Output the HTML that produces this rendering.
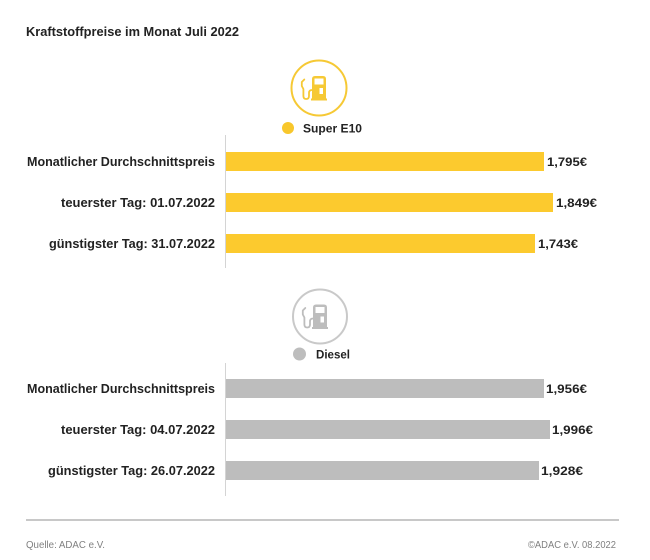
<!DOCTYPE html>
<html>
<head>
<meta charset="utf-8">
<style>
  html, body { margin:0; padding:0; background:#ffffff; }
  svg { display:block; }
  text { font-family: "Liberation Sans", "DejaVu Sans", sans-serif; }
</style>
</head>
<body>
<svg width="650" height="560" viewBox="0 0 650 560" xmlns="http://www.w3.org/2000/svg">
  <rect width="650" height="560" fill="#ffffff"/>

  <!-- Title -->
  <text x="26" y="36" font-size="12.5" font-weight="bold" fill="#222" textLength="213" lengthAdjust="spacingAndGlyphs">Kraftstoffpreise im Monat Juli 2022</text>

  <!-- Super E10 icon -->
  <circle cx="319" cy="88" r="27.5" fill="none" stroke="#f6c935" stroke-width="2"/>
  <g fill="#f6c935">
    <path d="M312,79 q0,-3 3,-3 h8 q3,0 3,3 v20 h-14 z"/>
    <rect x="311" y="98.5" width="16" height="2"/>
  </g>
  <rect x="314.5" y="78.5" width="9" height="6" fill="#fff"/>
  <rect x="319.5" y="88" width="3.5" height="6" fill="#fff"/>
  <path d="M312,90 q-3,0 -3,3 v3 q0,3 -2.8,3 q-2.8,0 -2.8,-3 v-7 l-1.6,-3 v-4 l2.5,-2.5" fill="none" stroke="#f6c935" stroke-width="1.8" stroke-linecap="round" stroke-linejoin="round"/>
  <circle cx="288" cy="128" r="6" fill="#f8c72c"/>
  <text x="303" y="132.5" font-size="12" font-weight="bold" fill="#222" textLength="59" lengthAdjust="spacingAndGlyphs">Super E10</text>

  <!-- Yellow axis -->
  <line x1="225.5" y1="135" x2="225.5" y2="268" stroke="#d4d4d4" stroke-width="1"/>

  <!-- Yellow bars -->
  <rect x="226" y="152" width="318" height="19" fill="#fcca2e"/>
  <rect x="226" y="193" width="327" height="19" fill="#fcca2e"/>
  <rect x="226" y="234" width="309" height="19" fill="#fcca2e"/>

  <text x="215" y="166" font-size="12.5" font-weight="bold" fill="#222" text-anchor="end" textLength="188" lengthAdjust="spacingAndGlyphs">Monatlicher Durchschnittspreis</text>
  <text x="215" y="207" font-size="12.5" font-weight="bold" fill="#222" text-anchor="end" textLength="154" lengthAdjust="spacingAndGlyphs">teuerster Tag: 01.07.2022</text>
  <text x="215" y="248" font-size="12.5" font-weight="bold" fill="#222" text-anchor="end" textLength="166" lengthAdjust="spacingAndGlyphs">günstigster Tag: 31.07.2022</text>

  <text x="547" y="166" font-size="12" font-weight="bold" fill="#222" textLength="40" lengthAdjust="spacingAndGlyphs">1,795€</text>
  <text x="556" y="207" font-size="12" font-weight="bold" fill="#222" textLength="41" lengthAdjust="spacingAndGlyphs">1,849€</text>
  <text x="538" y="248" font-size="12" font-weight="bold" fill="#222" textLength="40" lengthAdjust="spacingAndGlyphs">1,743€</text>

  <!-- Diesel icon -->
  <circle cx="320" cy="316.5" r="27" fill="none" stroke="#c9c9c9" stroke-width="2"/>
  <g fill="#bdbdbd">
    <path d="M313,307.5 q0,-3 3,-3 h8 q3,0 3,3 v20 h-14 z"/>
    <rect x="312" y="327" width="16" height="2"/>
  </g>
  <rect x="315.5" y="307" width="9" height="6" fill="#fff"/>
  <rect x="320.5" y="316.5" width="3.5" height="6" fill="#fff"/>
  <path d="M313,318.5 q-3,0 -3,3 v3 q0,3 -2.8,3 q-2.8,0 -2.8,-3 v-7 l-1.6,-3 v-4 l2.5,-2.5" fill="none" stroke="#bdbdbd" stroke-width="1.8" stroke-linecap="round" stroke-linejoin="round"/>
  <circle cx="299.5" cy="354" r="6.5" fill="#bdbdbd"/>
  <text x="316" y="358.5" font-size="12" font-weight="bold" fill="#222" textLength="34" lengthAdjust="spacingAndGlyphs">Diesel</text>

  <!-- Gray axis -->
  <line x1="225.5" y1="363" x2="225.5" y2="496" stroke="#d4d4d4" stroke-width="1"/>

  <!-- Gray bars -->
  <rect x="226" y="379" width="318" height="19" fill="#bdbdbd"/>
  <rect x="226" y="420" width="324" height="19" fill="#bdbdbd"/>
  <rect x="226" y="461" width="313" height="19" fill="#bdbdbd"/>

  <text x="215" y="393" font-size="12.5" font-weight="bold" fill="#222" text-anchor="end" textLength="188" lengthAdjust="spacingAndGlyphs">Monatlicher Durchschnittspreis</text>
  <text x="215" y="434" font-size="12.5" font-weight="bold" fill="#222" text-anchor="end" textLength="154" lengthAdjust="spacingAndGlyphs">teuerster Tag: 04.07.2022</text>
  <text x="215" y="475" font-size="12.5" font-weight="bold" fill="#222" text-anchor="end" textLength="167" lengthAdjust="spacingAndGlyphs">günstigster Tag: 26.07.2022</text>

  <text x="546" y="393" font-size="12" font-weight="bold" fill="#222" textLength="41" lengthAdjust="spacingAndGlyphs">1,956€</text>
  <text x="552" y="434" font-size="12" font-weight="bold" fill="#222" textLength="41" lengthAdjust="spacingAndGlyphs">1,996€</text>
  <text x="541" y="475" font-size="12" font-weight="bold" fill="#222" textLength="42" lengthAdjust="spacingAndGlyphs">1,928€</text>

  <!-- Footer -->
  <line x1="26" y1="520" x2="619" y2="520" stroke="#b5b5b5" stroke-width="1.5"/>
  <text x="26" y="548" font-size="10" fill="#808080" textLength="79" lengthAdjust="spacingAndGlyphs">Quelle: ADAC e.V.</text>
  <text x="616" y="548" font-size="10" fill="#808080" text-anchor="end" textLength="88" lengthAdjust="spacingAndGlyphs">©ADAC e.V. 08.2022</text>
</svg>
</body>
</html>
